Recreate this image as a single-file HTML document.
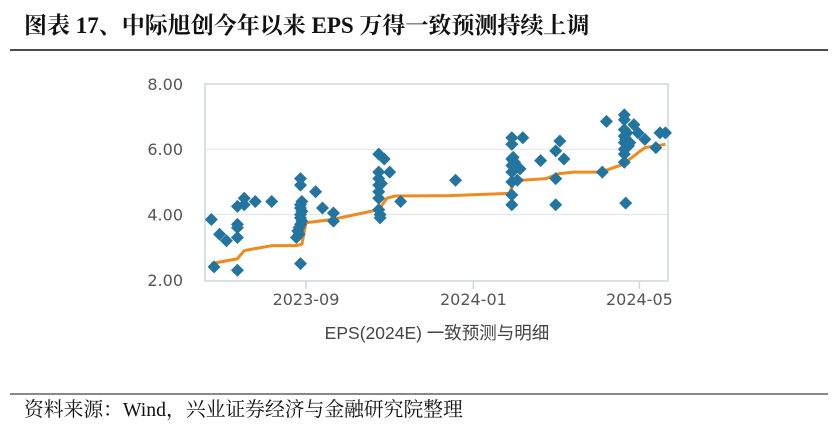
<!DOCTYPE html>
<html><head><meta charset="utf-8"><style>
body{margin:0;width:837px;height:424px;background:#fff;overflow:hidden;font-family:"Liberation Serif","Noto Serif CJK SC",serif}
</style></head><body>
<svg id="c" width="837" height="424" xmlns="http://www.w3.org/2000/svg">
<text x="24" y="33" font-size="23" font-weight="bold" fill="#111" font-family="Liberation Serif, Noto Serif CJK SC, serif">图表 17、中际旭创今年以来 EPS 万得一致预测持续上调</text>
<line x1="10" y1="50" x2="828" y2="50" stroke="#111" stroke-width="1.5"/>
<rect x="205" y="84" width="463" height="197" fill="none" stroke="#cdd5e0" stroke-width="1.5"/>
<g id="grid"></g><g id="line"></g><g id="pts"></g><g id="axes"></g>
<text x="437" y="339" font-size="17.5" text-anchor="middle" fill="#444" font-family="Liberation Sans, Noto Sans CJK SC, sans-serif">EPS(2024E) 一致预测与明细</text>
<line x1="10" y1="394" x2="828" y2="394" stroke="#111" stroke-width="1"/>
<text x="24" y="416" font-size="19.8" fill="#111" font-family="Liberation Serif, Noto Serif CJK SC, serif">资料来源：Wind，兴业证券经济与金融研究院整理</text>
</svg>
<script>
const yTicks=[2,4,6,8];
const yTickLabels=["2.00","4.00","6.00","8.00"];
const xTicks=["2023-09-01","2024-01-01","2024-05-01"];
const xTickLabels=["2023-09","2024-01","2024-05"];
const pointDates=["2023-06-24","2023-06-26","2023-06-30","2023-07-05","2023-07-13","2023-07-13","2023-07-13","2023-07-13","2023-07-13","2023-07-18","2023-07-18","2023-07-26","2023-08-07",
"2023-08-25","2023-08-26","2023-08-27","2023-08-27","2023-08-28","2023-08-28","2023-08-28","2023-08-28","2023-08-28","2023-08-28","2023-08-28","2023-08-29","2023-08-29","2023-08-29","2023-08-28",
"2023-09-08","2023-09-13","2023-09-21","2023-09-21",
"2023-10-24","2023-10-24","2023-10-24","2023-10-24","2023-10-24","2023-10-24","2023-10-24","2023-10-25","2023-10-25","2023-10-28","2023-10-26","2023-11-01","2023-11-09",
"2023-12-19",
"2024-01-29","2024-01-29","2024-01-29","2024-01-29","2024-01-29","2024-01-29","2024-01-29","2024-01-29","2024-01-30","2024-01-31","2024-02-02","2024-02-04","2024-02-06","2024-02-19",
"2024-03-01","2024-03-01","2024-03-01","2024-03-04","2024-03-07",
"2024-04-04","2024-04-07",
"2024-04-20","2024-04-20","2024-04-20","2024-04-20","2024-04-20","2024-04-20","2024-04-20","2024-04-20","2024-04-21","2024-04-21","2024-04-22","2024-04-23","2024-04-24","2024-04-27","2024-04-30","2024-05-05","2024-05-13","2024-05-16","2024-05-20"];
const pointValues=[3.85,2.4,3.4,3.2,3.6,3.7,3.3,2.3,4.25,4.5,4.3,4.4,4.4,
3.3,3.5,3.6,3.4,5.1,4.9,4.2,4.0,3.9,3.7,4.3,4.1,4.4,3.8,2.5,
4.7,4.2,4.05,3.8,
5.85,5.3,5.1,4.9,4.7,4.5,4.15,4.0,3.9,5.7,4.95,5.3,4.4,
5.05,
6.35,6.15,5.7,5.5,5.3,5.0,4.6,4.3,5.75,5.6,5.05,5.4,6.35,5.65,
5.95,5.1,4.3,6.25,5.7,
5.3,6.85,
7.05,6.9,6.6,6.4,6.2,6.0,5.85,5.6,6.3,4.35,6.5,6.1,6.2,6.75,6.5,6.3,6.05,6.5,6.5];
const lineDates=["2023-06-24","2023-07-13","2023-07-18","2023-08-07","2023-08-25","2023-08-29","2023-09-01","2023-09-20","2023-10-24","2023-10-30","2023-11-05","2023-12-15","2024-01-27","2024-01-31","2024-02-05","2024-02-23","2024-03-03","2024-03-14","2024-04-03","2024-04-20","2024-04-24","2024-05-05","2024-05-20"];
const lineValues=[2.5,2.65,2.9,3.05,3.05,3.1,3.75,3.85,4.15,4.5,4.57,4.58,4.65,5.0,5.05,5.1,5.25,5.3,5.3,5.55,5.7,6.05,6.15];
const NS="http://www.w3.org/2000/svg";
const t0=Date.UTC(2023,8,1);
function day(s){const p=s.split("-");return (Date.UTC(+p[0],+p[1]-1,+p[2])-t0)/864e5;}
function xs(s){return 306+day(s)*1.372;}
function ys(v){return 280-(v-2)*32.7;}
function mk(tag,attrs,parent){const e=document.createElementNS(NS,tag);for(const k in attrs)e.setAttribute(k,attrs[k]);document.getElementById(parent).appendChild(e);return e;}
yTicks.forEach((v,i)=>{
  if(v>2&&v<8){const g=mk("line",{x1:205,x2:668,y1:ys(v),y2:ys(v),stroke:"#dde3ec","stroke-width":1},"grid");
  
  }
  const t=mk("text",{x:183,y:ys(v)+6,"font-size":16,"text-anchor":"end",fill:"#555","font-family":"DejaVu Sans, sans-serif"},"axes");
  t.textContent=yTickLabels[i];
  
  
});
xTicks.forEach((d,i)=>{
  const x=xs(d);
  const l=mk("line",{x1:x,x2:x,y1:281,y2:289,stroke:"#cdd5e0","stroke-width":1.5},"axes");
  
  
  const t=mk("text",{x:x,y:305,"font-size":16,"text-anchor":"middle",fill:"#555","font-family":"DejaVu Sans, sans-serif"},"axes");
  t.textContent=xTickLabels[i];
  
  
});
const path=mk("polyline",{points:lineDates.map((d,i)=>xs(d)+","+ys(lineValues[i])).join(" "),fill:"none",stroke:"#ef8a1f","stroke-width":3,"stroke-linejoin":"round"},"line");


pointDates.forEach((d,i)=>{
  const x=xs(d),y=ys(pointValues[i]),r=6.5;
  const p=mk("polygon",{points:`${x},${y-r} ${x+r},${y} ${x},${y+r} ${x-r},${y}`,fill:"#2474a0"},"pts");
  
  
});
</script>
</body></html>
